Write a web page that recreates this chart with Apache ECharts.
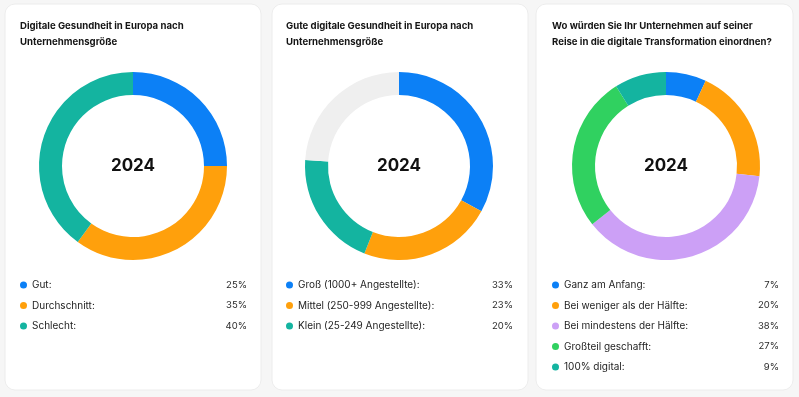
<!DOCTYPE html>
<html>
<head>
<meta charset="utf-8">
<script src="https://cdn.jsdelivr.net/npm/echarts@6/dist/echarts.min.js"></script>
<style>
  html, body { margin: 0; padding: 0; background: #f6f6f6; }
  #chart { width: 799px; height: 397px; }
</style>
</head>
<body>
<div id="chart"></div>
<script>
// card 1
const healthNames = ['Gut:', 'Durchschnitt:', 'Schlecht:'];
const healthValues = [25, 35, 40];

// card 2
const sizeNames = ['Groß (1000+ Angestellte):', 'Mittel (250-999 Angestellte):', 'Klein (25-249 Angestellte):'];
const sizeValues = [33, 23, 20];
const sizeRest = 24;

// card 3
const journeyNames = ['Ganz am Anfang:', 'Bei weniger als der Hälfte:', 'Bei mindestens der Hälfte:', 'Großteil geschafft:', '100% digital:'];
const journeyValues = [7, 20, 38, 27, 9];

const titles = [
    'Digitale Gesundheit in Europa nach\nUnternehmensgröße',
    'Gute digitale Gesundheit in Europa nach\nUnternehmensgröße',
    'Wo würden Sie Ihr Unternehmen auf seiner\nReise in die digitale Transformation einordnen?'
];
const yearLabel = '2024';

const BLUE = '#0c80f6';
const ORANGE = '#ffa00c';
const TEAL = '#14b4a0';
const PURPLE = '#cca0f6';
const GREEN = '#30d160';
const REST = '#efefef';

const FONT = 'Inter, "Noto Sans", sans-serif';

const cards = [
    { x: 5, w: 256, titleX: 20, cx: 133 },
    { x: 272, w: 256, titleX: 286, cx: 399 },
    { x: 536, w: 257, titleX: 552, cx: 666 }
];

const pctLookup = {};
healthNames.forEach((n, i) => pctLookup[n] = healthValues[i]);
sizeNames.forEach((n, i) => pctLookup[n] = sizeValues[i]);
journeyNames.forEach((n, i) => pctLookup[n] = journeyValues[i]);

function toData(names, values, colors) {
    return names.map((n, i) => ({ name: n, value: values[i], itemStyle: { color: colors[i] } }));
}

const chart = echarts.init(document.getElementById('chart'));

const donut = (cx, data) => ({
    type: 'pie',
    center: [cx, 166],
    radius: [71, 94],
    startAngle: 90,
    clockwise: true,
    silent: true,
    label: { show: false },
    labelLine: { show: false },
    itemStyle: { borderWidth: 0 },
    data: data
});

const legend = (left, names) => ({
    orient: 'vertical',
    left: left,
    top: 280,
    padding: 0,
    icon: 'circle',
    itemWidth: 7,
    itemHeight: 7,
    itemGap: 10.5,
    selectedMode: false,
    data: names,
    formatter: name => '{n|' + name + '}{p|' + pctLookup[name] + '%}',
    textStyle: {
        fontFamily: FONT,
        rich: {
            n: { width: 185, fontSize: 10, lineHeight: 14, color: '#1e1e1e', fontFamily: FONT },
            p: { width: 30, align: 'right', fontSize: 9.5, lineHeight: 14, color: '#2a2a2a', fontFamily: FONT }
        }
    }
});

const option = {
    animation: false,
    graphic: cards.map(c => ({
        type: 'rect',
        shape: { x: c.x, y: 4, width: c.w, height: 386, r: 10 },
        style: { fill: '#ffffff', stroke: '#ececec', lineWidth: 1 },
        z: -10
    })).concat(cards.map(c => ({
        type: 'text',
        x: c.cx,
        y: 166,
        style: {
            text: yearLabel,
            fontFamily: FONT,
            fontSize: 17,
            fontWeight: 'bold',
            fill: '#111',
            textAlign: 'center',
            textVerticalAlign: 'middle'
        },
        z: 10
    }))),
    title: cards.map((c, i) => ({
        text: titles[i],
        left: c.titleX,
        top: 18,
        padding: 0,
        textStyle: {
            fontFamily: FONT,
            fontSize: 9.6,
            fontWeight: 'bold',
            lineHeight: 16,
            color: '#151515'
        }
    })),
    legend: [
        legend(20, healthNames),
        legend(286, sizeNames),
        legend(552, journeyNames)
    ],
    series: [
        donut(cards[0].cx, toData(healthNames, healthValues, [BLUE, ORANGE, TEAL])),
        donut(cards[1].cx, toData(sizeNames, sizeValues, [BLUE, ORANGE, TEAL])
            .concat([{ name: 'Rest', value: sizeRest, itemStyle: { color: REST } }])),
        donut(cards[2].cx, toData(journeyNames, journeyValues, [BLUE, ORANGE, PURPLE, GREEN, TEAL]))
    ]
};

chart.setOption(option);
</script>
</body>
</html>
